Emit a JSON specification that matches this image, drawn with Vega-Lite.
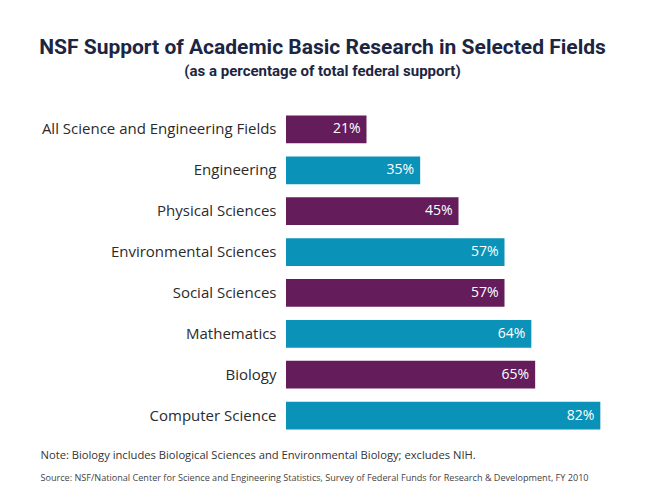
{
  "$schema": "https://vega.github.io/schema/vega-lite/v6.json",
  "autosize": "none",
  "width": 345,
  "height": 327,
  "padding": {"left": 286, "top": 109, "right": 19, "bottom": 66},
  "background": "white",
  "title": {
    "text": "NSF Support of Academic Basic Research in Selected Fields",
    "subtitle": "(as a percentage of total federal support)",
    "anchor": "middle",
    "frame": "group",
    "dx": -136,
    "offset": 30,
    "font": "Roboto",
    "fontSize": 21,
    "fontWeight": "bold",
    "color": "#1c2541",
    "subtitleFont": "Roboto",
    "subtitleFontSize": 15,
    "subtitleFontWeight": "bold",
    "subtitleColor": "#1c2541",
    "subtitlePadding": 6
  },
  "config": {"view": {"stroke": null}},
  "data": {
    "values": [
      {"field": "All Science and Engineering Fields", "share": 0.21},
      {"field": "Engineering", "share": 0.35},
      {"field": "Physical Sciences", "share": 0.45},
      {"field": "Environmental Sciences", "share": 0.57},
      {"field": "Social Sciences", "share": 0.57},
      {"field": "Mathematics", "share": 0.64},
      {"field": "Biology", "share": 0.65},
      {"field": "Computer Science", "share": 0.82}
    ]
  },
  "transform": [{"window": [{"op": "row_number", "as": "rank"}]}],
  "encoding": {
    "y": {
      "field": "field",
      "type": "nominal",
      "sort": null,
      "scale": {"paddingInner": 0.32, "paddingOuter": 0.16},
      "axis": {
        "title": null,
        "domain": false,
        "ticks": false,
        "labelPadding": 10,
        "labelLimit": 300,
        "labelFont": "Open Sans",
        "labelFontSize": 15,
        "labelColor": "#2b2b2b"
      }
    }
  },
  "layer": [
    {
      "mark": {"type": "bar"},
      "encoding": {
        "x": {
          "field": "share",
          "type": "quantitative",
          "scale": {"domain": [0, 0.9]},
          "axis": {
            "orient": "bottom",
            "domain": false,
            "ticks": false,
            "labels": false,
            "grid": false,
            "title": "Note: Biology includes Biological Sciences and Environmental Biology; excludes NIH.",
            "titleFont": "Open Sans",
            "titleFontSize": 11.2,
            "titleFontWeight": "normal",
            "titleColor": "#333333",
            "titleAnchor": "start",
            "titleAlign": "left",
            "titleBaseline": "middle",
            "titleX": -246,
            "titleY": 19
          }
        },
        "color": {
          "condition": {"test": "datum.rank % 2 === 1", "value": "#641c5b"},
          "value": "#0b92b8"
        }
      }
    },
    {
      "mark": {"type": "text", "align": "right", "dx": -6, "font": "Open Sans", "fontSize": 14, "color": "white"},
      "encoding": {
        "x": {
          "field": "share",
          "type": "quantitative",
          "axis": {
            "orient": "bottom",
            "domain": false,
            "ticks": false,
            "labels": false,
            "grid": false,
            "title": "Source: NSF/National Center for Science and Engineering Statistics, Survey of Federal Funds for Research & Development, FY 2010",
            "titleFont": "Open Sans",
            "titleFontSize": 9.1,
            "titleFontWeight": "normal",
            "titleColor": "#444444",
            "titleAnchor": "start",
            "titleAlign": "left",
            "titleBaseline": "middle",
            "titleX": -246,
            "titleY": 41
          }
        },
        "text": {"field": "share", "type": "quantitative", "format": ".0%"}
      }
    }
  ],
  "resolve": {"axis": {"x": "independent"}}
}
